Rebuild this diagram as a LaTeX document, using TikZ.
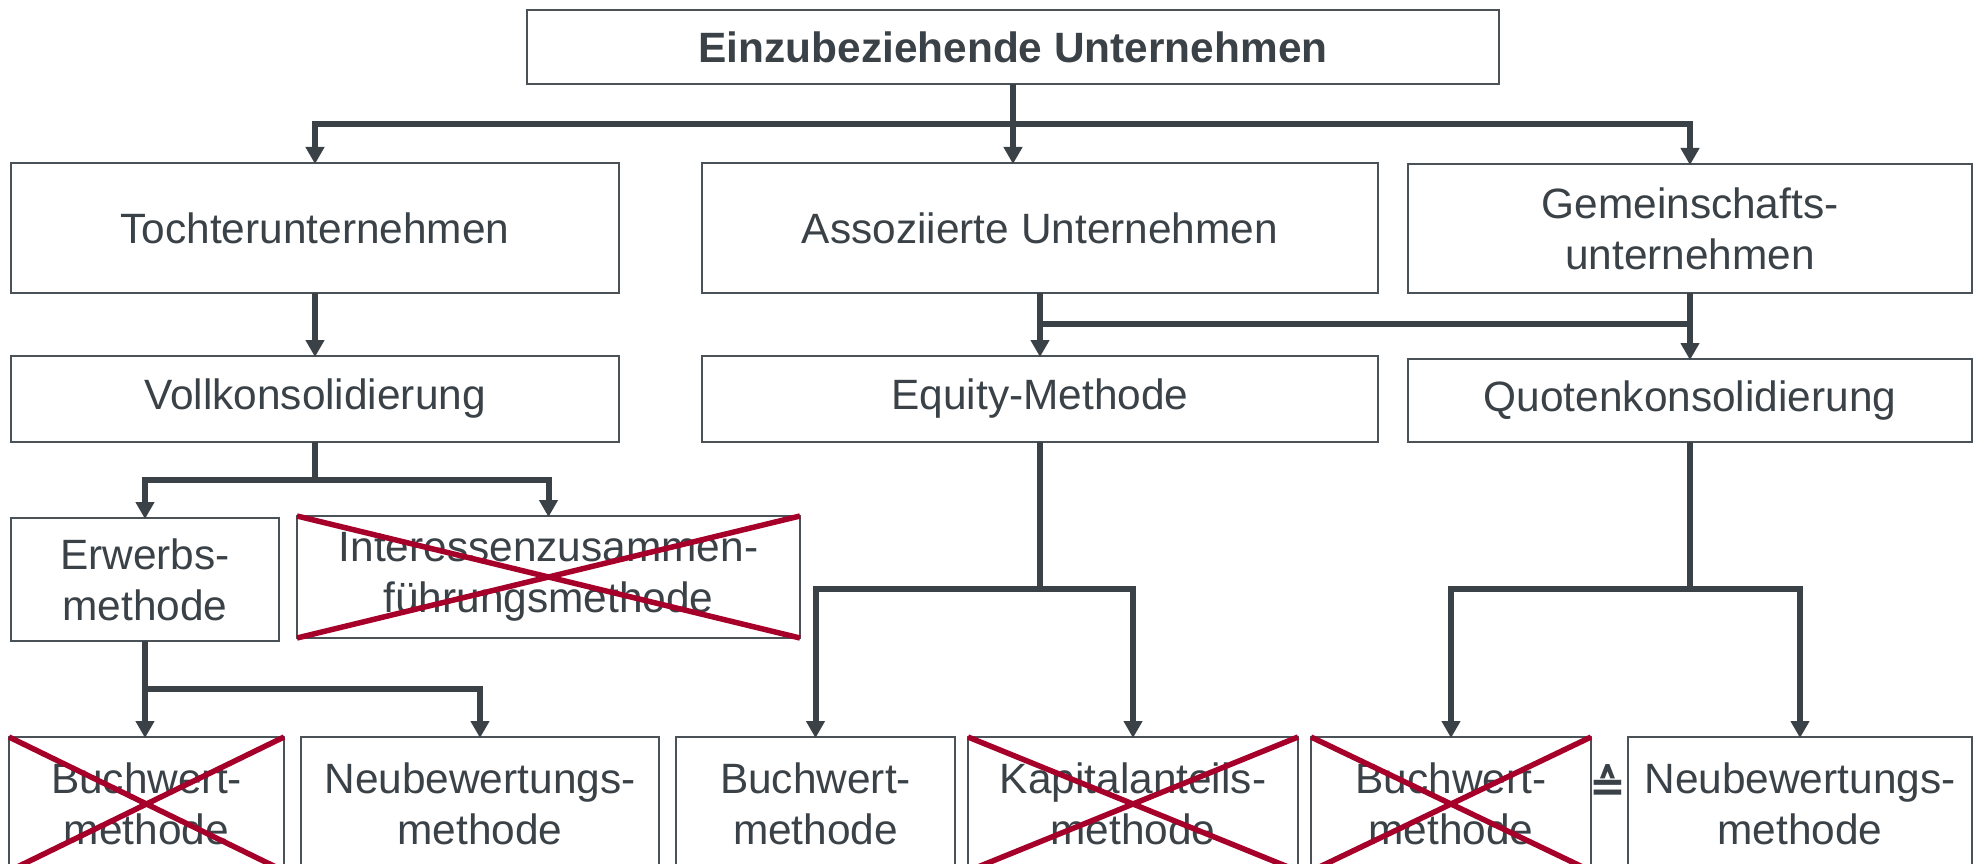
\documentclass[tikz,border=0pt]{standalone}
\usepackage{fontspec}
\setmainfont{Liberation Sans}
\newfontfamily\symfont{DejaVu Sans}
\usetikzlibrary{arrows.meta}
\definecolor{txt}{HTML}{3A4147}
\definecolor{frame}{HTML}{4A5157}
\definecolor{xred}{HTML}{A6002A}
\newcommand{\bx}[6]{%
  \node[box, minimum width={#4-#2}, minimum height={#5-#3}] (#1) at ({(#2+#4)/2},{(#3+#5)/2}) {#6};}
\begin{document}
\begin{tikzpicture}[x=1pt,y=-1pt,
  box/.style={draw=frame, line width=2pt, inner sep=0pt, outer sep=0pt, align=center,
    text=txt, font=\fontsize{42.4}{51}\selectfont},
  conn/.style={draw=txt, line width=6pt, line join=miter},
  arr/.style={conn, -{Triangle[width=18pt,length=17pt]}, shorten >=-1pt},
  xcross/.style={draw=xred, line width=5.5pt}]
\useasboundingbox (0,0) rectangle (1982,864);
\clip (0,0) rectangle (1982,864);
\fill[white] (0,0) rectangle (1982,864);
% boxes
\bx{top}{527}{10}{1499}{84}{\textbf{Einzubeziehende Unternehmen}}
\bx{toch}{11}{163}{619}{293}{Tochterunternehmen}
\bx{asso}{702}{163}{1378}{293}{Assoziierte Unternehmen}
\bx{gem}{1408}{164}{1972}{293}{Gemeinschafts-\\unternehmen}
\bx{voll}{11}{356}{619}{442}{Vollkonsolidierung}
\bx{equ}{702}{356}{1378}{442}{Equity-Methode}
\bx{quo}{1408}{359}{1972}{442}{Quotenkonsolidierung}
\bx{erw}{11}{518}{279}{641}{Erwerbs-\\methode}
\bx{int}{297}{516}{800}{638}{Interessenzusammen-\\führungsmethode}
\bx{bA}{9}{737}{284}{871}{Buchwert-\\methode}
\bx{nA}{301}{737}{659}{871}{Neubewertungs-\\methode}
\bx{bB}{676}{737}{955}{871}{Buchwert-\\methode}
\bx{kap}{968}{737}{1298}{871}{Kapitalanteils-\\methode}
\bx{bC}{1311}{737}{1591}{871}{Buchwert-\\methode}
\bx{nB}{1628}{737}{1972}{871}{Neubewertungs-\\methode}
\node[text=txt, font=\symfont\bfseries\fontsize{44}{52}\selectfont, inner sep=0pt] (eq) at (1608,783) {≙};
% connectors level 1
\draw[arr] (top.south) -- (top.south |- asso.north);
\draw[arr] (top.south |- 0,124) -| (toch.north);
\draw[arr] (top.south |- 0,124) -| (gem.north);
% level 2
\draw[arr] (toch.south) -- (voll.north);
\draw[arr] (asso.south) -- (equ.north);
\draw[arr] (gem.south) -- (quo.north);
\draw[conn] (asso.south |- 0,324) -- (gem.south |- 0,324);
% Vollkonsolidierung
\draw[conn] (voll.south) -- (voll.south |- 0,480);
\draw[arr] (voll.south |- 0,480) -| (erw.north);
\draw[arr] (voll.south |- 0,480) -| (int.north);
% Erwerbsmethode
\draw[conn] (erw.south) -- (erw.south |- 0,689);
\draw[arr] (erw.south |- 0,689) -- (erw.south |- bA.north);
\draw[arr] (erw.south |- 0,689) -| (nA.north);
% Equity
\draw[conn] (equ.south) -- (equ.south |- 0,589);
\draw[arr] (equ.south |- 0,589) -| (bB.north);
\draw[arr] (equ.south |- 0,589) -| (kap.north);
% Quoten
\draw[conn] (quo.south) -- (quo.south |- 0,589);
\draw[arr] (quo.south |- 0,589) -| (bC.north);
\draw[arr] (quo.south |- 0,589) -| (nB.north);
% crosses
\foreach \n in {int,bA,kap,bC}{
  \draw[xcross] (\n.north west) -- (\n.south east) (\n.south west) -- (\n.north east);
}
\end{tikzpicture}
\end{document}
